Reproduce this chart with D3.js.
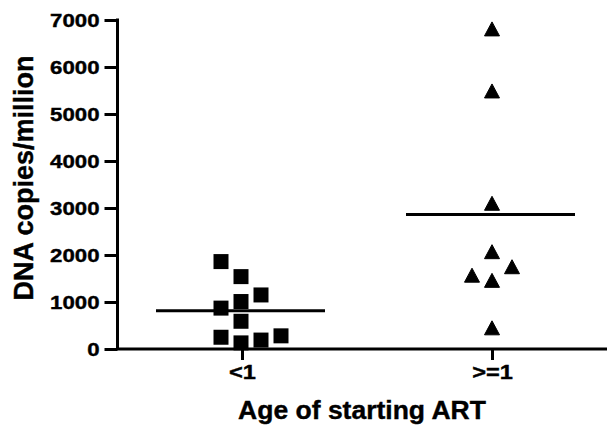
<!DOCTYPE html>
<html>
<head>
<meta charset="utf-8">
<script src="https://cdn.jsdelivr.net/npm/d3@7"></script>
<style>
  body { margin: 0; background: #fff; }
  text { font-family: "Liberation Sans", Arial, sans-serif; font-weight: bold; fill: #000; stroke: #000; stroke-width: 0.4px; }
</style>
</head>
<body>
<div id="vis"></div>
<script>
const width = 607;
const height = 425;

// groups on the x axis
const categories = ["<1", ">=1"];

// DNA copies per million
const under1Values = [1860, 1540, 1150, 1010, 870, 590, 250, 130, 190, 280];
const under1Slots  = [-1, 0, 1, 0, -1, 0, -1, 0, 1, 2]; // scatter column offsets
const over1Values  = [6800, 5480, 3090, 2060, 1740, 1560, 1450, 440];
const over1Slots   = [0, 0, 0, 0, 1, -1, 0, 0];

// horizontal mean bars
const meanValues = [815, 2860];

const yTicks = [0, 1000, 2000, 3000, 4000, 5000, 6000, 7000];

const svg = d3.select("#vis")
  .append("svg")
  .attr("width", width)
  .attr("height", height);

const axisLeftX = 117.5;
const axisBottomY = 349;

const y = d3.scaleLinear().domain([0, 7000]).range([axisBottomY, 20]);
const x = d3.scalePoint().domain(categories).range([242, 492]);
const slotW = 20;

// y axis
const yAxis = svg.append("g")
  .attr("transform", `translate(${axisLeftX},0)`)
  .call(d3.axisLeft(y).tickValues(yTicks).tickSize(13).tickPadding(5).tickFormat(d3.format("d")));

yAxis.select(".domain").attr("stroke-width", 3).attr("d", `M0,${y(7000) - 1.5}V${axisBottomY}`);
yAxis.selectAll(".tick line").attr("stroke-width", 3);
yAxis.selectAll(".tick text")
  .style("font-size", "19px")
  .attr("dy", "0.35em")
  .attr("x", -18 / 1.17)
  .attr("transform", "scale(1.17,1)");

// x axis
const xAxis = svg.append("g")
  .attr("transform", `translate(0,${axisBottomY})`)
  .call(d3.axisBottom(x).tickSize(11).tickPadding(5));

xAxis.select(".domain").remove();
xAxis.append("line")
  .attr("x1", axisLeftX - 1.5)
  .attr("x2", width)
  .attr("stroke", "#000")
  .attr("stroke-width", 3);
xAxis.selectAll(".tick line").attr("stroke-width", 3);
xAxis.selectAll(".tick text")
  .style("font-size", "20px")
  .attr("dy", "0.71em")
  .attr("transform", "scale(1.18,1)");

// points
const under1 = under1Values.map((v, i) => ({ v, s: under1Slots[i] }));
const over1 = over1Values.map((v, i) => ({ v, s: over1Slots[i] }));

svg.append("g")
  .selectAll("path")
  .data(under1)
  .join("path")
  .attr("d", d3.symbol(d3.symbolSquare, 225))
  .attr("transform", d => `translate(${x("<1") - 1 + d.s * slotW},${y(d.v)})`)
  .attr("fill", "#000");

svg.append("g")
  .selectAll("path")
  .data(over1)
  .join("path")
  .attr("d", "M0,-7.5L7.5,6.5L-7.5,6.5Z")
  .attr("transform", d => `translate(${x(">=1") + d.s * slotW},${y(d.v)})`)
  .attr("fill", "#000")
  .attr("stroke", "#000")
  .attr("stroke-width", 1)
  .attr("stroke-linejoin", "round");

// mean lines
svg.append("g")
  .selectAll("line")
  .data(meanValues)
  .join("line")
  .attr("x1", (d, i) => x(categories[i]) - 86)
  .attr("x2", (d, i) => x(categories[i]) + 83)
  .attr("y1", d => y(d))
  .attr("y2", d => y(d))
  .attr("stroke", "#000")
  .attr("stroke-width", 3);

// axis titles
svg.append("text")
  .attr("x", 362)
  .attr("y", 419)
  .attr("text-anchor", "middle")
  .style("font-size", "26.5px")
  .text("Age of starting ART");

svg.append("text")
  .attr("transform", "translate(33,178) rotate(-90)")
  .attr("text-anchor", "middle")
  .style("font-size", "27px")
  .text("DNA copies/million");
</script>
</body>
</html>
